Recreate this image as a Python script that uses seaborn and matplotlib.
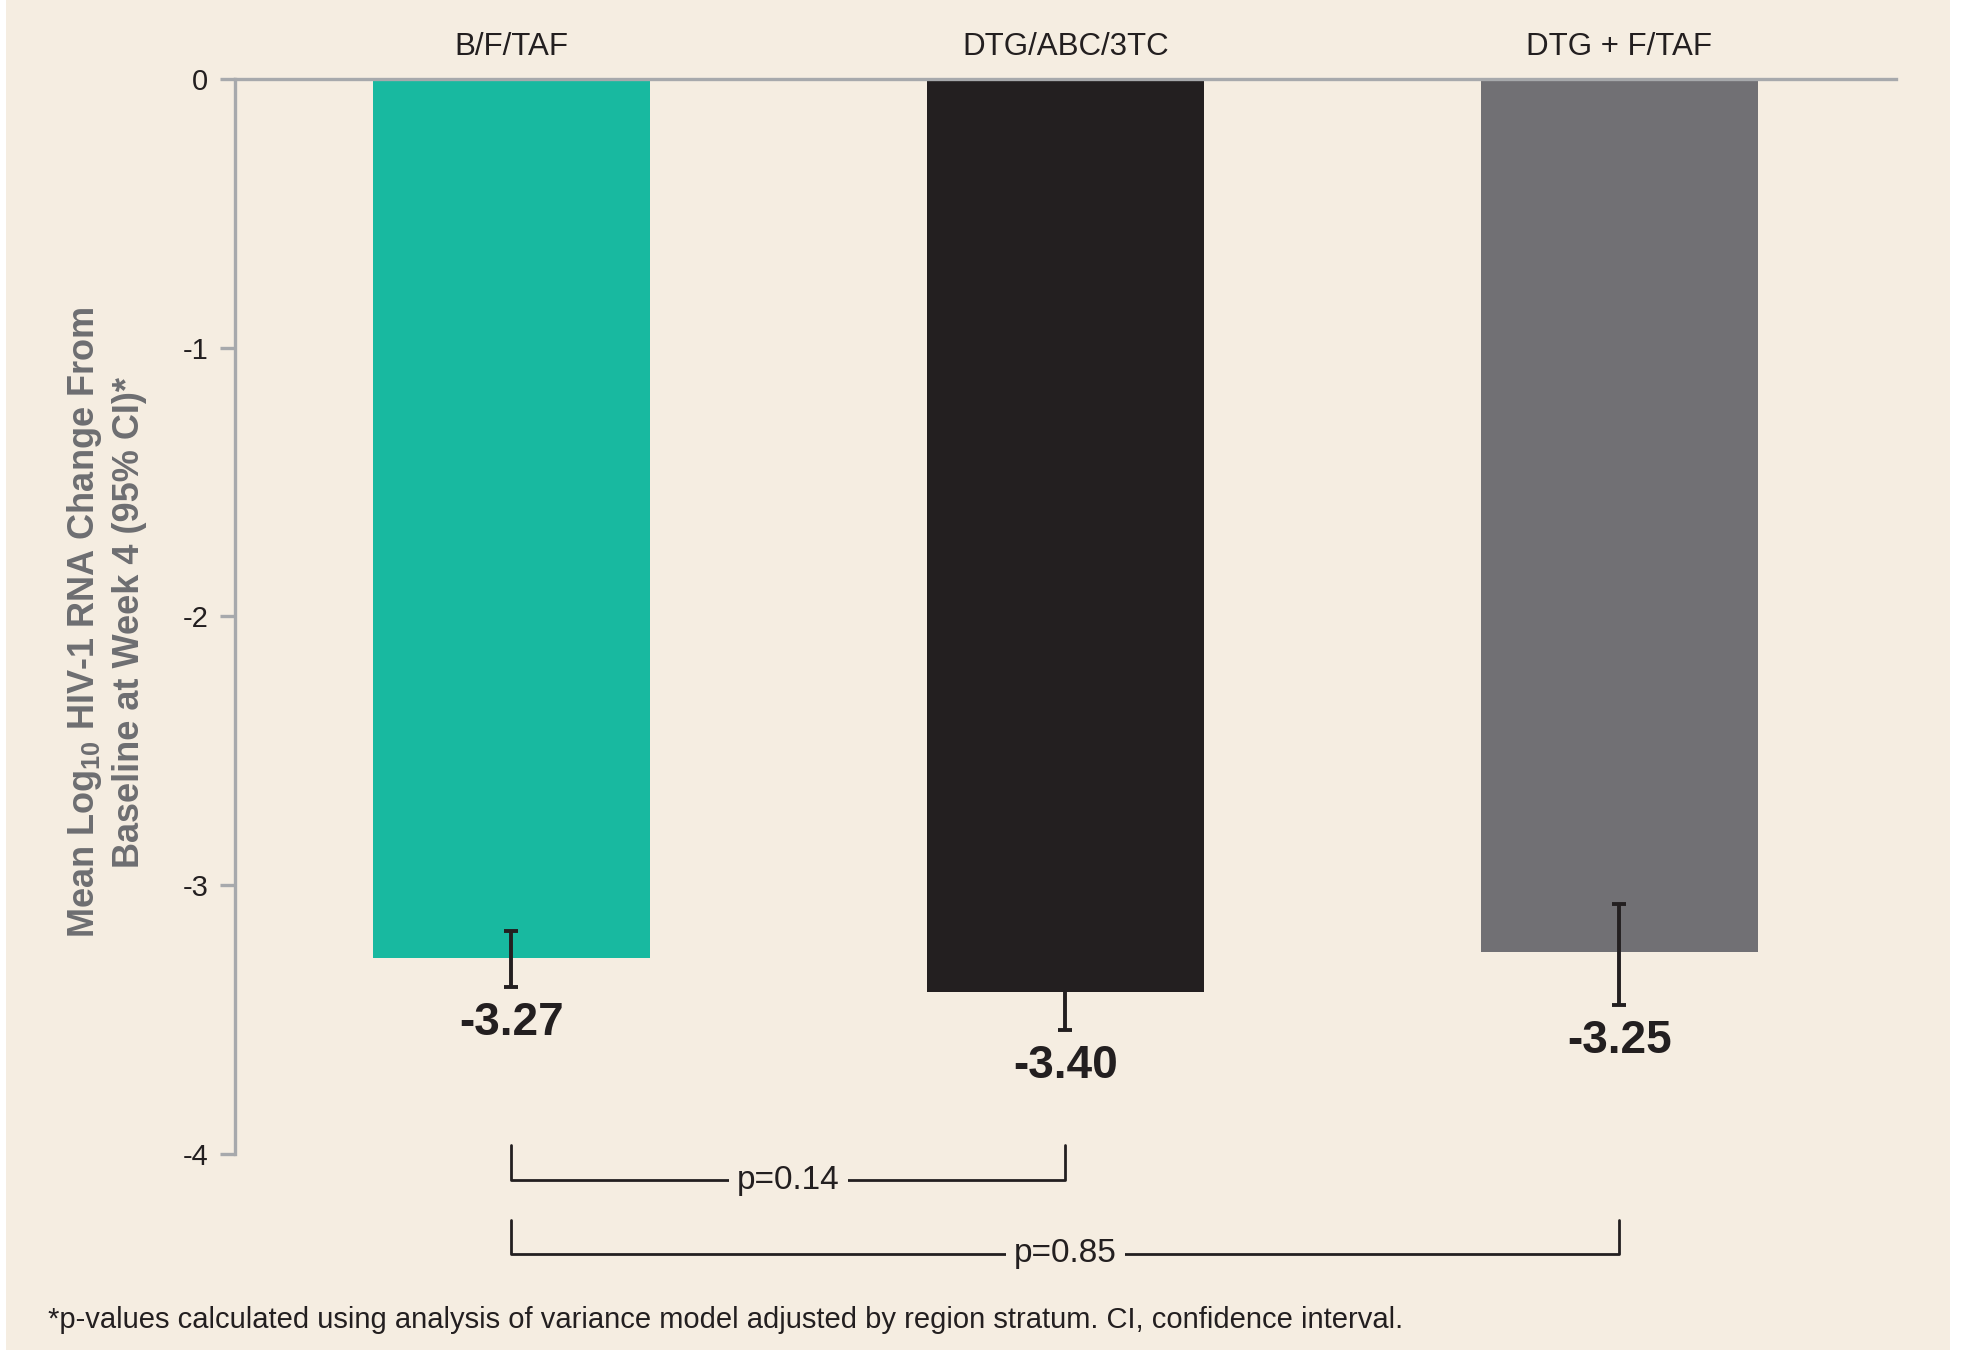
import matplotlib
matplotlib.use("Agg")
import matplotlib.pyplot as plt
from matplotlib.patches import Rectangle
import seaborn as sns

# data
regimens = ["B/F/TAF", "DTG/ABC/3TC", "DTG + F/TAF"]
mean_change = [-3.27, -3.40, -3.25]
ci_upper = [-3.17, -3.26, -3.07]
ci_lower = [-3.38, -3.54, -3.445]
bar_colors = ["#18b9a0", "#231f20", "#717074"]
yticks = [0, -1, -2, -3, -4]
comparisons = [(0, 1, "p=0.14"), (0, 2, "p=0.85")]

bg = "#f5ede1"
axis_grey = "#a7a9ac"
dark = "#231f20"

sns.set_theme(style="white")
plt.rcParams["font.family"] = ["Liberation Sans", "DejaVu Sans"]
plt.rcParams["mathtext.default"] = "regular"

fig = plt.figure(figsize=(19.66, 13.5), dpi=100, facecolor="white")
fig.patches.append(Rectangle((0.003, 0), 0.989, 1, transform=fig.transFigure,
                             facecolor=bg, edgecolor="none", zorder=-10))
ax = fig.add_axes([0.1193, 0.026, 0.8451, 0.9155])
ax.set_facecolor("none")

sns.barplot(x=regimens, y=mean_change, hue=regimens, palette=bar_colors,
            width=0.5, saturation=1, legend=False, ax=ax, zorder=2,
            linewidth=0, edgecolor="none")

xs = range(len(regimens))
lo_err = [m - lo for m, lo in zip(mean_change, ci_lower)]
hi_err = [hi - m for m, hi in zip(mean_change, ci_upper)]
ax.errorbar(xs, mean_change, yerr=[lo_err, hi_err], fmt="none", ecolor=dark,
            elinewidth=2.8, capsize=5, capthick=2.8, zorder=3, clip_on=False)

for x, m, lo in zip(xs, mean_change, ci_lower):
    ax.text(x, lo - 0.135, f"{m:.2f}", ha="center", va="center",
            fontsize=33, fontweight="bold", color=dark, clip_on=False)

# significance brackets under the axis
levels = [(-3.967, -4.098), (-4.246, -4.373)]
for (a, b, label), (top, base) in zip(comparisons, levels):
    ax.plot([a, a, b, b], [top, base, base, top], color=dark, lw=2,
            clip_on=False, zorder=3)
    ax.text((a + b) / 2, base, label, ha="center", va="center", fontsize=24,
            color=dark, zorder=4, clip_on=False,
            bbox=dict(boxstyle="square,pad=0.25", facecolor=bg, edgecolor="none"))

ax.set_xlim(-0.5, 2.5)
ax.set_ylim(-4.6, 0)
ax.set_yticks(yticks)
ax.set_yticklabels([str(t) for t in yticks])
ax.tick_params(axis="y", direction="out", length=11, width=2.4, color=axis_grey,
               labelsize=21, labelcolor=dark, pad=8, left=True)
ax.xaxis.tick_top()
ax.tick_params(axis="x", length=0, labelsize=22.5, labelcolor=dark, pad=12)
ax.set_xlabel("")

for side in ["right", "bottom"]:
    ax.spines[side].set_visible(False)
ax.spines["left"].set_bounds(-4, 0)
ax.spines["left"].set_color(axis_grey)
ax.spines["left"].set_linewidth(2.4)
ax.spines["top"].set_color(axis_grey)
ax.spines["top"].set_linewidth(2.4)

fig.text(0.054, 0.539, "Mean Log$_{10}$ HIV-1 RNA Change From\nBaseline at Week 4 (95% CI)*",
         rotation=90, ha="center", va="center", multialignment="center",
         fontsize=26, fontweight="bold", color="#6d6e71", linespacing=1.3)

fig.text(0.0244, 0.0222,
         "*p-values calculated using analysis of variance model adjusted by region stratum. CI, confidence interval.",
         ha="left", va="center", fontsize=21, color=dark)

fig.savefig("out.png", dpi=100, facecolor="white")
